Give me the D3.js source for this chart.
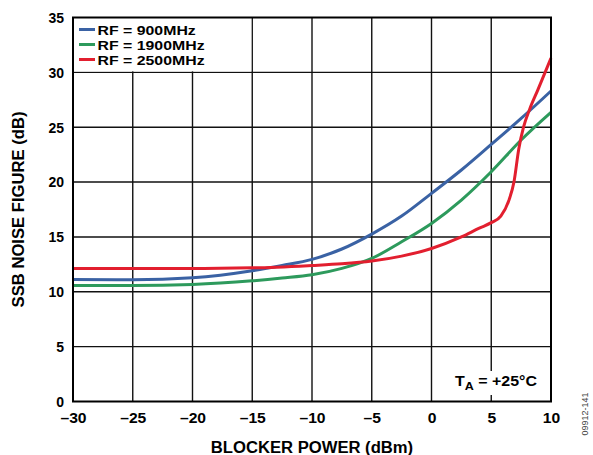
<!DOCTYPE html>
<html>
<head>
<meta charset="utf-8">
<script src="https://cdn.jsdelivr.net/npm/d3@7"></script>
<style>
  html, body { margin: 0; padding: 0; background: #fff; }
  svg text { font-family: "Liberation Sans", Arial, Helvetica, sans-serif; font-weight: bold; fill: #000; }
</style>
</head>
<body>
<svg id="chart" width="593" height="455"></svg>
<script>
// ---- data ----
const xTicks = [-30, -25, -20, -15, -10, -5, 0, 5, 10];
const yTicks = [0, 5, 10, 15, 20, 25, 30, 35];
const seriesNames = ["RF = 900MHz", "RF = 1900MHz", "RF = 2500MHz"];
const seriesColors = ["#3a62a4", "#2d9a5c", "#e21f2f"];

const rf900X  = [-30, -25, -20, -15, -12.5, -10, -7.5, -5, -2.5, 0, 2.5, 5, 7.5, 10];
const rf900Y  = [11.13, 11.1, 11.28, 11.92, 12.4, 12.95, 13.9, 15.26, 16.9, 18.97, 21.1, 23.43, 25.8, 28.3];
const rf1900X = [-30, -25, -20, -15, -12.5, -10, -7.5, -5, -2.5, 0, 2.5, 5, 7.5, 10];
const rf1900Y = [10.58, 10.58, 10.67, 11.0, 11.25, 11.55, 12.13, 13.04, 14.56, 16.23, 18.36, 20.94, 23.83, 26.35];
const rf2500X = [-30, -20, -15, -10, -7.5, -5, -2.5, 0, 2.5, 4, 5, 5.8, 6.5, 6.9, 7.3, 7.7, 8.2, 8.9, 10];
const rf2500Y = [12.13, 12.13, 12.18, 12.4, 12.55, 12.8, 13.25, 13.95, 15.0, 15.8, 16.3, 16.9, 18.4, 20.0, 23.0, 25.0, 26.6, 28.4, 31.3];

const xTitle = "BLOCKER POWER (dBm)";
const yTitle = "SSB NOISE FIGURE (dB)";
const figId = "09912-141";

// ---- layout ----
const svg = d3.select("#chart");
const pLeft = 73, pRight = 551, pTop = 17.5, pBottom = 401.5;
const x = d3.scaleLinear().domain([-30, 10]).range([pLeft, pRight]);
const y = d3.scaleLinear().domain([0, 35]).range([pBottom, pTop]);

// gridlines
const grid = svg.append("g");
grid.selectAll("line.v").data(xTicks.slice(1, -1)).join("line")
  .attr("class", "v")
  .attr("x1", d => x(d)).attr("x2", d => x(d))
  .attr("y1", pTop).attr("y2", pBottom)
  .attr("stroke", "#111").attr("stroke-width", 1.4);
grid.selectAll("line.h").data(yTicks.slice(1, -1)).join("line")
  .attr("class", "h")
  .attr("x1", pLeft).attr("x2", pRight)
  .attr("y1", d => y(d)).attr("y2", d => y(d))
  .attr("stroke", "#111").attr("stroke-width", 1.4);

// legend background (covers grid in top-left cells)
svg.append("rect")
  .attr("x", pLeft).attr("y", pTop)
  .attr("width", x(-15) - pLeft - 1).attr("height", y(30) - pTop - 1)
  .attr("fill", "#fff");

// T_A background
svg.append("rect")
  .attr("x", 452).attr("y", 371).attr("width", 90).attr("height", 24)
  .attr("fill", "#fff");

// curves
const series = [
  rf900X.map((v, i) => [v, rf900Y[i]]),
  rf1900X.map((v, i) => [v, rf1900Y[i]]),
  rf2500X.map((v, i) => [v, rf2500Y[i]])
];
const line = d3.line().x(d => x(d[0])).y(d => y(d[1])).curve(d3.curveMonotoneX);
svg.append("g").selectAll("path").data(series).join("path")
  .attr("d", line)
  .attr("fill", "none")
  .attr("stroke", (d, i) => seriesColors[i])
  .attr("stroke-width", 3)
  .attr("stroke-linecap", "butt");

// frame
svg.append("rect")
  .attr("x", pLeft).attr("y", pTop)
  .attr("width", pRight - pLeft).attr("height", pBottom - pTop)
  .attr("fill", "none").attr("stroke", "#000").attr("stroke-width", 2);

// axes (tick labels only)
const xAxis = d3.axisBottom(x).tickValues(xTicks).tickSize(0).tickPadding(0)
  .tickFormat(d => d < 0 ? "\u2013" + Math.abs(d) : String(d));
const gx = svg.append("g").attr("transform", `translate(0,${pBottom})`).call(xAxis);
gx.select(".domain").remove();
gx.selectAll("text")
  .attr("y", 0).attr("dy", 0)
  .attr("transform", "translate(0,21.5) scale(1.12,1)")
  .style("font-size", "14px").style("font-family", "'Liberation Sans', Arial, sans-serif").style("font-weight", "bold");

const yAxis = d3.axisLeft(y).tickValues(yTicks).tickSize(0).tickPadding(0);
const gy = svg.append("g").attr("transform", `translate(${pLeft - 9},0)`).call(yAxis);
gy.select(".domain").remove();
gy.selectAll("text")
  .attr("x", 0).attr("dy", "0.35em")
  .style("font-size", "14px").style("font-family", "'Liberation Sans', Arial, sans-serif").style("font-weight", "bold");

// legend
const lg = svg.append("g");
seriesNames.forEach((name, i) => {
  const yy = 34.5 + i * 15;
  lg.append("line")
    .attr("x1", 79).attr("x2", 95)
    .attr("y1", yy - 5).attr("y2", yy - 5)
    .attr("stroke", seriesColors[i]).attr("stroke-width", 3);
  lg.append("text")
    .attr("transform", `translate(97.5,${yy}) scale(1.22,1)`)
    .style("font-size", "13px")
    .text(name);
});

// T_A annotation
const ta = svg.append("text")
  .attr("transform", "translate(455,386) scale(1.14,1)")
  .style("font-size", "14px");
ta.append("tspan").text("T");
ta.append("tspan").attr("dy", 4).style("font-size", "11px").text("A");
ta.append("tspan").attr("dy", -4).text(" = +25°C");

// axis titles
svg.append("text")
  .attr("transform", `translate(${(pLeft + pRight) / 2},453) scale(1.04,1)`)
  .attr("text-anchor", "middle")
  .style("font-size", "16px")
  .text(xTitle);

svg.append("text")
  .attr("transform", `translate(24,${(pTop + pBottom) / 2}) rotate(-90) scale(1.04,1)`)
  .attr("text-anchor", "middle")
  .style("font-size", "16px")
  .text(yTitle);

svg.append("text")
  .attr("transform", "translate(588,414) rotate(-90)")
  .attr("text-anchor", "middle")
  .style("font-size", "9px").style("font-weight", "normal").style("fill", "#444")
  .text(figId);
</script>
</body>
</html>
